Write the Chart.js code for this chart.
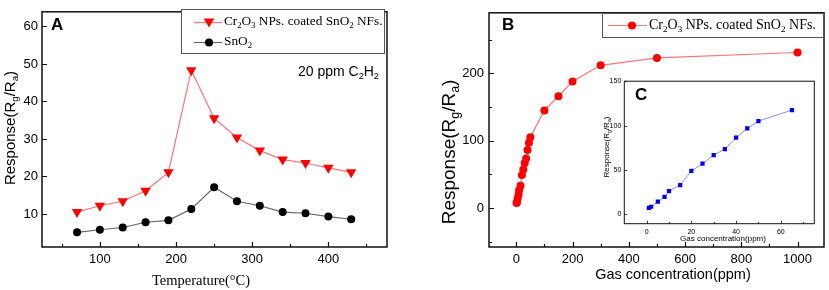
<!DOCTYPE html>
<html>
<head>
<meta charset="utf-8">
<script src="https://cdn.jsdelivr.net/npm/chart.js@4/dist/chart.umd.min.js"></script>
<style>
  body { margin: 0; background: #fff; width: 829px; height: 290px; position: relative; overflow: hidden; }
  canvas { position: absolute; }
</style>
</head>
<body>
<canvas id="chartA" width="415" height="290" style="left:0;top:0"></canvas>
<canvas id="chartB" width="409" height="290" style="left:420px;top:0"></canvas>
<canvas id="chartC" width="230" height="172" style="left:590px;top:74px"></canvas>
<script>
// panel A: response vs operating temperature (20 ppm C2H2)
const temps = [70, 100, 130, 160, 190, 220, 250, 280, 310, 340, 370, 400, 430];
const coatedA = [10.5, 12.2, 13.4, 16.2, 21.1, 48.3, 35.5, 30.4, 26.9, 24.5, 23.6, 22.3, 21.1];
const pureA = [5.1, 5.8, 6.4, 7.8, 8.3, 11.3, 17.1, 13.4, 12.2, 10.5, 10.2, 9.3, 8.6];

// panel B: response vs gas concentration
const concB = [1, 2, 5, 8, 10, 15, 20, 25, 30, 35, 40, 45, 50, 100, 150, 200, 300, 500, 1000];
const respB = [7.2, 8.5, 14.2, 19.5, 26.2, 33, 48.8, 57, 66.8, 73.5, 86.3, 96.8, 105, 145, 166, 188, 212, 223, 231];

// inset C: low concentration range
const concC = [1, 2, 5, 8, 10, 15, 20, 25, 30, 35, 40, 45, 50, 65];
const respC = [7.2, 8.5, 14.2, 19.5, 26.2, 33, 48.8, 57, 66.8, 73.5, 86.3, 96.8, 105, 117.5];

// tick labels
const ticksAx = [100, 200, 300, 400];
const minorAx = [50, 150, 250, 350, 450];
const ticksAy = [10, 20, 30, 40, 50, 60];
const ticksBx = [0, 200, 400, 600, 800, 1000];
const minorBx = [100, 300, 500, 700, 900];
const ticksBy = [0, 100, 200];
const minorBy = [-50, 50, 150, 250];
const ticksCx = [0, 20, 40, 60];
const minorCx = [10, 30, 50, 70];
const ticksCy = [0, 50, 100, 150];

const SANS = "'Liberation Sans', Arial, sans-serif";
const SERIF = "'Liberation Serif', 'Times New Roman', serif";
Chart.defaults.font.family = SANS;
Chart.defaults.color = "#000";

const yTitle = [["Response(R"], ["g", 1], ["/R"], ["a", 1], [")"]];
const coatedLabel = [["Cr"], ["2", 1], ["O"], ["3", 1], [" NPs. coated SnO"], ["2", 1], [" NFs."]];

function richWidth(ctx, parts, size, family) {
  let w = 0;
  parts.forEach(([t, sub]) => {
    ctx.font = `${sub ? size * 0.65 : size}px ${family}`;
    w += ctx.measureText(t).width;
  });
  return w;
}

// draws text with subscripts; x is the left edge unless center is set
function drawRich(ctx, parts, x, y, size, family, center) {
  let cx = center ? x - richWidth(ctx, parts, size, family) / 2 : x;
  ctx.textBaseline = "middle";
  ctx.textAlign = "left";
  ctx.fillStyle = "#000";
  parts.forEach(([t, sub]) => {
    ctx.font = `${sub ? size * 0.65 : size}px ${family}`;
    ctx.fillText(t, cx, sub ? y + size * 0.3 : y);
    cx += ctx.measureText(t).width;
  });
}

function drawRotated(ctx, parts, x, y, size, family) {
  ctx.save();
  ctx.translate(x, y);
  ctx.rotate(-Math.PI / 2);
  drawRich(ctx, parts, 0, 0, size, family, true);
  ctx.restore();
}

function marker(ctx, style, x, y, r, color) {
  ctx.fillStyle = color;
  ctx.beginPath();
  if (style === "tri") {
    ctx.moveTo(x - r * 0.87, y - r * 0.5);
    ctx.lineTo(x + r * 0.87, y - r * 0.5);
    ctx.lineTo(x, y + r);
    ctx.closePath();
  } else {
    ctx.arc(x, y, r, 0, Math.PI * 2);
  }
  ctx.fill();
}

// box frame plus inward tick marks
function framePlugin(cfg) {
  return {
    id: "frame",
    afterDraw(chart) {
      const { ctx, chartArea: a, scales } = chart;
      ctx.save();
      ctx.strokeStyle = "#111";
      ctx.lineWidth = cfg.lw;
      ctx.strokeRect(a.left, a.top, a.right - a.left, a.bottom - a.top);
      ctx.beginPath();
      const tx = (vals, len) => vals.forEach(v => {
        const p = Math.round(scales.x.getPixelForValue(v)) + 0.5;
        ctx.moveTo(p, a.bottom);
        ctx.lineTo(p, a.bottom - len);
      });
      const ty = (vals, len) => vals.forEach(v => {
        const p = Math.round(scales.y.getPixelForValue(v)) + 0.5;
        ctx.moveTo(a.left, p);
        ctx.lineTo(a.left + len, p);
      });
      tx(cfg.x, cfg.len);
      tx(cfg.mx || [], cfg.len * 0.6);
      ty(cfg.y, cfg.len);
      ty(cfg.my || [], cfg.len * 0.6);
      ctx.lineWidth = cfg.lw * 0.8;
      ctx.stroke();
      ctx.restore();
    }
  };
}

function overlay(fn) {
  return { id: "overlay", afterDraw(chart) { chart.ctx.save(); fn(chart.ctx); chart.ctx.restore(); } };
}

function pts(xs, ys) {
  return xs.map((x, i) => ({ x, y: ys[i] }));
}

function axis(min, max, ticks, fit, size, pad) {
  return {
    type: "linear",
    min, max,
    afterBuildTicks: s => { s.ticks = ticks.map(v => ({ value: v })); },
    afterFit: s => { if (s.isHorizontal()) s.height = fit; else s.width = fit; },
    grid: { display: false, drawTicks: false },
    border: { display: false },
    ticks: { padding: pad, font: { size }, color: "#000", callback: v => String(v) }
  };
}

const common = {
  responsive: false,
  animation: false,
  plugins: { legend: { display: false }, tooltip: { enabled: false } }
};

new Chart(document.getElementById("chartA"), {
  type: "line",
  data: {
    datasets: [
      {
        data: pts(temps, coatedA),
        borderColor: "#ff7373", borderWidth: 1.2,
        pointStyle: "triangle", pointRotation: 180, pointRadius: 6,
        pointBackgroundColor: "#ff0000", pointBorderColor: "#ff0000", pointBorderWidth: 0
      },
      {
        data: pts(temps, pureA),
        borderColor: "#666", borderWidth: 1.2,
        pointStyle: "circle", pointRadius: 4,
        pointBackgroundColor: "#000", pointBorderColor: "#000", pointBorderWidth: 0
      }
    ]
  },
  options: {
    ...common,
    layout: { padding: { top: 3, right: 28, left: 0, bottom: 0 } },
    scales: {
      x: axis(24, 477, ticksAx, 43, 13, 5),
      y: axis(1.2, 63.9, ticksAy, 42, 13, 4)
    }
  },
  plugins: [
    framePlugin({ x: ticksAx, mx: minorAx, y: ticksAy, len: 5, lw: 1.5 }),
    overlay(ctx => {
      ctx.font = `bold 17px ${SANS}`;
      ctx.textBaseline = "middle";
      ctx.fillStyle = "#000";
      ctx.fillText("A", 51, 25);
      drawRotated(ctx, yTitle, 11, 128, 15, SANS);
      drawRich(ctx, [["Temperature(°C)"]], 201, 281, 14.5, SERIF, true);
      drawRich(ctx, [["20 ppm C"], ["2", 1], ["H"], ["2", 1]], 298, 72, 14, SANS);
      // legend
      ctx.fillStyle = "#fff";
      ctx.fillRect(181, 9, 203, 44);
      ctx.strokeStyle = "#555";
      ctx.lineWidth = 1;
      ctx.strokeRect(181.5, 9.5, 203, 44);
      ctx.lineWidth = 1.2;
      ctx.strokeStyle = "#ff7373";
      ctx.beginPath(); ctx.moveTo(194, 22.5); ctx.lineTo(222, 22.5); ctx.stroke();
      marker(ctx, "tri", 209, 21.5, 6, "#ff0000");
      ctx.strokeStyle = "#666";
      ctx.beginPath(); ctx.moveTo(194, 42.5); ctx.lineTo(222, 42.5); ctx.stroke();
      marker(ctx, "dot", 209, 42.5, 4, "#000");
      drawRich(ctx, coatedLabel, 224, 22, 13.3, SERIF);
      drawRich(ctx, [["SnO"], ["2", 1]], 224, 42, 13.3, SERIF);
    })
  ]
});

new Chart(document.getElementById("chartB"), {
  type: "line",
  data: {
    datasets: [{
      data: pts(concB, respB),
      borderColor: "#ff7373", borderWidth: 1.2,
      pointStyle: "circle", pointRadius: 4,
      pointBackgroundColor: "#ff0000", pointBorderColor: "#ff0000", pointBorderWidth: 0
    }]
  },
  options: {
    ...common,
    layout: { padding: { top: 8, right: 5, left: 0, bottom: 0 } },
    scales: {
      x: axis(-97, 1094, ticksBx, 43, 13, 5),
      y: axis(-58, 290, ticksBy, 69, 13, 5)
    }
  },
  plugins: [
    framePlugin({ x: ticksBx, mx: minorBx, y: ticksBy, my: minorBy, len: 5, lw: 1.5 }),
    overlay(ctx => {
      ctx.font = `bold 17px ${SANS}`;
      ctx.textBaseline = "middle";
      ctx.fillStyle = "#000";
      ctx.fillText("B", 82, 25);
      drawRotated(ctx, yTitle, 30, 152, 19, SANS);
      drawRich(ctx, [["Gas concentration(ppm)"]], 253, 275, 14.5, SANS, true);
      ctx.fillStyle = "#fff";
      ctx.fillRect(182, 13, 222, 24);
      ctx.strokeStyle = "#555";
      ctx.lineWidth = 1;
      ctx.strokeRect(182.5, 13.5, 221, 24);
      ctx.lineWidth = 1.2;
      ctx.strokeStyle = "#ff7373";
      ctx.beginPath(); ctx.moveTo(188, 25.5); ctx.lineTo(227, 25.5); ctx.stroke();
      marker(ctx, "dot", 212, 25.5, 4, "#ff0000");
      drawRich(ctx, coatedLabel, 229, 25, 14, SERIF);
    })
  ]
});

new Chart(document.getElementById("chartC"), {
  type: "line",
  data: {
    datasets: [{
      data: pts(concC, respC),
      borderColor: "#8c8cff", borderWidth: 1,
      pointStyle: "rect", pointRadius: 3,
      pointBackgroundColor: "#0000ff", pointBorderColor: "#0000ff", pointBorderWidth: 0
    }]
  },
  options: {
    ...common,
    layout: { padding: { top: 7, right: 5.7, left: 0, bottom: 0 } },
    scales: {
      x: axis(-10, 75, ticksCx, 22.3, 7, 4),
      y: axis(-10.6, 150, ticksCy, 34.3, 7, 3)
    }
  },
  plugins: [
    framePlugin({ x: ticksCx, mx: minorCx, y: ticksCy, len: 3, lw: 1 }),
    overlay(ctx => {
      ctx.font = `bold 17px ${SANS}`;
      ctx.textBaseline = "middle";
      ctx.fillStyle = "#000";
      ctx.fillText("C", 45, 21);
      drawRotated(ctx, yTitle, 17, 73, 8, SANS);
      drawRich(ctx, [["Gas concentration(ppm)"]], 133, 165, 8, SANS, true);
    })
  ]
});
</script>
</body>
</html>
